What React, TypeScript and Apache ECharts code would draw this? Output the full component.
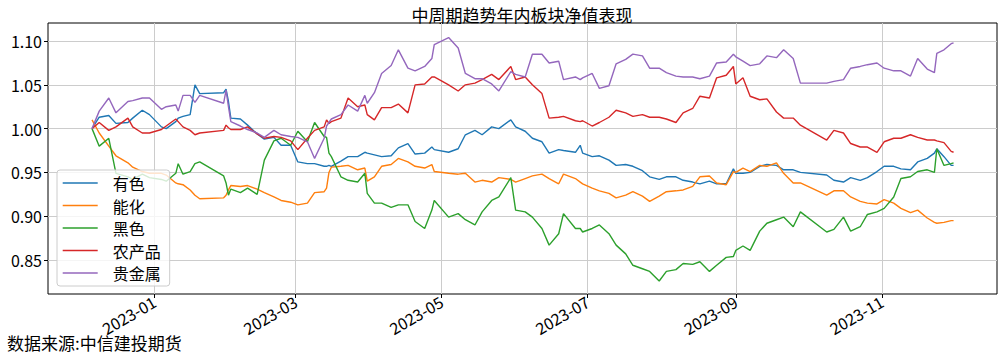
import React, { useEffect, useRef } from "react";
import * as echarts from "echarts";

const FONT = "'Noto Sans CJK SC', 'Noto Sans', sans-serif";

const names = ["有色", "能化", "黑色", "农产品", "贵金属"];
const colors = ["#1f77b4", "#ff7f0e", "#2ca02c", "#d62728", "#9467bd"];

const dates = [
  "2022-12-06", "2022-12-09", "2022-12-13", "2022-12-16", "2022-12-21", "2022-12-23", "2022-12-27", "2022-12-30",
  "2023-01-04", "2023-01-06", "2023-01-10", "2023-01-11", "2023-01-13", "2023-01-16", "2023-01-18", "2023-01-20",
  "2023-01-30", "2023-01-31", "2023-02-01", "2023-02-02", "2023-02-06", "2023-02-09", "2023-02-13", "2023-02-16",
  "2023-02-20", "2023-02-23", "2023-02-27", "2023-03-02", "2023-03-06", "2023-03-09", "2023-03-13", "2023-03-14",
  "2023-03-15", "2023-03-16", "2023-03-20", "2023-03-23", "2023-03-27", "2023-03-30", "2023-03-31", "2023-04-03",
  "2023-04-06", "2023-04-10", "2023-04-13", "2023-04-17", "2023-04-20", "2023-04-24", "2023-04-27", "2023-04-28",
  "2023-05-04", "2023-05-08", "2023-05-11", "2023-05-15", "2023-05-18", "2023-05-22", "2023-05-25", "2023-05-30",
  "2023-06-01", "2023-06-05", "2023-06-08", "2023-06-12", "2023-06-15", "2023-06-19", "2023-06-21", "2023-06-26",
  "2023-06-28", "2023-06-29", "2023-07-03", "2023-07-06", "2023-07-10", "2023-07-13", "2023-07-17", "2023-07-20",
  "2023-07-24", "2023-07-27", "2023-07-31", "2023-08-03", "2023-08-07", "2023-08-10", "2023-08-14", "2023-08-17",
  "2023-08-21", "2023-08-24", "2023-08-28", "2023-08-31", "2023-09-01", "2023-09-04", "2023-09-07", "2023-09-11",
  "2023-09-14", "2023-09-18", "2023-09-21", "2023-09-25", "2023-09-28", "2023-10-09", "2023-10-12", "2023-10-16",
  "2023-10-19", "2023-10-23", "2023-10-26", "2023-10-30", "2023-11-02", "2023-11-06", "2023-11-09", "2023-11-13",
  "2023-11-16", "2023-11-20", "2023-11-23", "2023-11-24", "2023-11-27", "2023-11-30", "2023-12-01",
];

const youse = [
  1.000, 1.013, 1.015, 1.006, 1.007, 1.012, 1.021, 1.016, 1.002, 1.000, 1.008, 1.012, 1.014, 1.016, 1.050, 1.040,
  1.041, 1.045, 1.031, 1.012, 1.011, 1.004, 0.994, 0.988, 0.990, 0.981, 0.981, 0.962, 0.960, 0.960, 0.957, 0.957,
  0.958, 0.957, 0.963, 0.968, 0.968, 0.973, 0.972, 0.970, 0.968, 0.969, 0.978, 0.983, 0.971, 0.972, 0.979, 0.976,
  0.973, 0.977, 0.993, 0.998, 0.993, 1.002, 1.000, 1.010, 1.002, 0.997, 0.989, 0.985, 0.972, 0.976, 0.975, 0.973,
  0.981, 0.972, 0.968, 0.969, 0.964, 0.958, 0.959, 0.957, 0.952, 0.945, 0.942, 0.945, 0.945, 0.941, 0.939, 0.937,
  0.940, 0.937, 0.937, 0.954, 0.949, 0.949, 0.950, 0.957, 0.959, 0.958, 0.953, 0.953, 0.950, 0.947, 0.941, 0.939,
  0.944, 0.941, 0.944, 0.951, 0.957, 0.957, 0.954, 0.953, 0.962, 0.966, 0.972, 0.977, 0.968, 0.958, 0.958,
];

const nenghua = [
  1.010, 0.995, 0.980, 0.969, 0.961, 0.956, 0.951, 0.949, 0.949, 0.947, 0.938, 0.937, 0.936, 0.930, 0.924, 0.920,
  0.921, 0.924, 0.930, 0.935, 0.934, 0.935, 0.931, 0.927, 0.922, 0.918, 0.916, 0.913, 0.915, 0.927, 0.928, 0.932,
  0.950, 0.956, 0.957, 0.958, 0.953, 0.955, 0.940, 0.945, 0.957, 0.959, 0.966, 0.962, 0.957, 0.955, 0.959, 0.951,
  0.949, 0.948, 0.949, 0.939, 0.941, 0.939, 0.944, 0.942, 0.939, 0.943, 0.946, 0.948, 0.943, 0.937, 0.948, 0.943,
  0.939, 0.937, 0.932, 0.929, 0.926, 0.921, 0.924, 0.928, 0.923, 0.917, 0.923, 0.928, 0.929, 0.930, 0.934, 0.945,
  0.946, 0.938, 0.936, 0.951, 0.950, 0.955, 0.951, 0.958, 0.957, 0.961, 0.949, 0.938, 0.938, 0.924, 0.929, 0.929,
  0.922, 0.917, 0.915, 0.914, 0.919, 0.915, 0.909, 0.904, 0.907, 0.898, 0.893, 0.892, 0.893, 0.895, 0.895,
];

const heise = [
  1.000, 0.980, 0.989, 0.949, 0.945, 0.942, 0.948, 0.944, 0.942, 0.940, 0.949, 0.960, 0.948, 0.951, 0.960, 0.962,
  0.946, 0.938, 0.924, 0.931, 0.927, 0.932, 0.925, 0.964, 0.986, 0.989, 0.981, 0.997, 0.985, 1.007, 0.991, 0.990,
  0.972, 0.968, 0.945, 0.941, 0.939, 0.949, 0.926, 0.915, 0.915, 0.910, 0.913, 0.913, 0.894, 0.886, 0.907, 0.918,
  0.899, 0.903, 0.896, 0.890, 0.905, 0.918, 0.922, 0.944, 0.907, 0.905, 0.899, 0.886, 0.867, 0.880, 0.903, 0.886,
  0.886, 0.882, 0.886, 0.890, 0.880, 0.867, 0.857, 0.844, 0.840, 0.837, 0.826, 0.837, 0.839, 0.846, 0.845, 0.848,
  0.837, 0.844, 0.853, 0.854, 0.861, 0.866, 0.861, 0.883, 0.892, 0.896, 0.899, 0.888, 0.905, 0.882, 0.885, 0.899,
  0.883, 0.888, 0.902, 0.905, 0.909, 0.922, 0.943, 0.945, 0.951, 0.953, 0.950, 0.977, 0.958, 0.960, 0.961,
];

const nongchanpin = [
  1.000, 1.007, 0.998, 1.002, 1.012, 1.002, 0.995, 0.995, 0.999, 1.003, 1.011, 1.008, 1.002, 0.998, 0.993, 0.995,
  0.998, 1.004, 1.001, 0.999, 0.999, 1.002, 0.994, 0.989, 0.991, 0.990, 0.986, 0.976, 0.989, 0.998, 1.002, 1.010,
  1.006, 1.008, 1.012, 1.035, 1.025, 1.027, 1.016, 1.010, 1.024, 1.024, 1.028, 1.018, 1.050, 1.051, 1.059, 1.059,
  1.050, 1.043, 1.050, 1.052, 1.056, 1.062, 1.056, 1.071, 1.056, 1.059, 1.050, 1.040, 1.012, 1.013, 1.014, 1.009,
  1.008, 1.009, 1.003, 1.007, 1.013, 1.021, 1.018, 1.014, 1.016, 1.013, 1.013, 1.011, 1.007, 1.018, 1.023, 1.037,
  1.035, 1.058, 1.061, 1.071, 1.051, 1.058, 1.037, 1.033, 1.034, 1.019, 1.012, 1.012, 1.004, 0.987, 0.998, 0.995,
  0.983, 0.979, 0.979, 0.973, 0.985, 0.989, 0.989, 0.993, 0.990, 0.987, 0.987, 0.986, 0.984, 0.974, 0.973,
];

const guijinshu = [
  1.000, 1.020, 1.035, 1.018, 1.031, 1.032, 1.035, 1.035, 1.022, 1.025, 1.027, 1.020, 1.038, 1.038, 1.030, 1.038,
  1.029, 1.044, 1.025, 1.008, 1.003, 0.999, 0.995, 0.990, 0.998, 0.993, 0.991, 0.990, 0.985, 0.966, 0.989, 1.003,
  1.007, 1.011, 1.016, 1.027, 1.020, 1.038, 1.029, 1.041, 1.063, 1.072, 1.090, 1.069, 1.066, 1.071, 1.080, 1.096,
  1.104, 1.092, 1.063, 1.057, 1.057, 1.051, 1.043, 1.065, 1.062, 1.059, 1.085, 1.085, 1.075, 1.077, 1.056, 1.059,
  1.056, 1.058, 1.063, 1.046, 1.049, 1.074, 1.079, 1.085, 1.083, 1.069, 1.069, 1.064, 1.060, 1.059, 1.059, 1.057,
  1.060, 1.075, 1.076, 1.085, 1.082, 1.077, 1.072, 1.074, 1.083, 1.081, 1.090, 1.080, 1.052, 1.052, 1.054, 1.056,
  1.069, 1.071, 1.073, 1.075, 1.069, 1.066, 1.066, 1.060, 1.080, 1.068, 1.064, 1.086, 1.090, 1.097, 1.098,
];

const seriesValues = [youse, nenghua, heise, nongchanpin, guijinshu];

const xTickMonths = ["2023-01-01", "2023-03-01", "2023-05-01", "2023-07-01", "2023-09-01", "2023-11-01"];
const yTicks = [0.85, 0.9, 0.95, 1.0, 1.05, 1.1];

function localTs(s: string): number {
  const [y, m, d] = s.split("-").map(Number);
  return new Date(y, m - 1, d).getTime();
}

export default function App() {
  const ref = useRef<HTMLDivElement>(null);

  useEffect(() => {
    if (!ref.current) return;
    const chart = echarts.init(ref.current, undefined, { renderer: "svg" });
    const day = 86400000;
    const jan1 = localTs("2023-01-01");
    const xTicks = xTickMonths.map(localTs);

    const option: any = {
      animation: false,
      backgroundColor: "#ffffff",
      textStyle: { fontFamily: FONT },
      grid: {
        left: 48,
        right: 6,
        top: 23,
        bottom: 60,
        show: true,
        borderColor: "#000000",
        borderWidth: 1,
        backgroundColor: "transparent",
      },
      xAxis: {
        type: "value",
        min: jan1 - 44.4 * day,
        max: jan1 + 352.15 * day,
        axisLine: { show: false },
        axisTick: {
          show: true,
          customValues: xTicks,
          length: 4,
          lineStyle: { color: "#000000", width: 1 },
        },
        axisLabel: {
          customValues: xTicks,
          rotate: 30,
          margin: 6,
          fontSize: 16,
          color: "#000000",
          fontFamily: FONT,
          formatter: (v: number) => {
            const d = new Date(v);
            return `${d.getFullYear()}-${String(d.getMonth() + 1).padStart(2, "0")}`;
          },
        },
        splitLine: { show: true, lineStyle: { color: "#cccccc", width: 1 } },
      },
      yAxis: {
        type: "value",
        min: 0.8112,
        max: 1.1206,
        axisLine: { show: false },
        axisTick: {
          show: true,
          customValues: yTicks,
          length: 4,
          lineStyle: { color: "#000000", width: 1 },
        },
        axisLabel: {
          customValues: yTicks,
          margin: 6,
          fontSize: 16,
          color: "#000000",
          fontFamily: FONT,
          formatter: (v: number) => v.toFixed(2),
        },
        splitLine: { show: true, lineStyle: { color: "#cccccc", width: 1 } },
      },
      legend: {
        orient: "vertical",
        left: 57,
        top: 170,
        itemWidth: 35,
        itemHeight: 14,
        itemGap: 4.5,
        padding: [4, 9, 4, 5],
        backgroundColor: "rgba(255,255,255,0.8)",
        borderColor: "#cccccc",
        borderWidth: 1,
        borderRadius: 3,
        data: names,
        itemStyle: { opacity: 0 },
        lineStyle: { width: 1.4 },
        textStyle: {
          fontSize: 16,
          color: "#000000",
          fontFamily: FONT,
          lineHeight: 18,
          padding: [0, 0, 0, 10],
        },
      },
      graphic: [
        {
          type: "text",
          x: 522,
          y: 14,
          style: {
            text: "中周期趋势年内板块净值表现",
            fontSize: 17,
            fontFamily: FONT,
            fill: "#000000",
            textAlign: "center",
            textVerticalAlign: "middle",
          },
        },
        {
          type: "text",
          x: 7,
          y: 342,
          style: {
            text: "数据来源:中信建投期货",
            fontSize: 17,
            fontFamily: FONT,
            fill: "#000000",
            textAlign: "left",
            textVerticalAlign: "middle",
          },
        },
      ],
      series: names.map((name, i) => ({
        name,
        type: "line",
        data: dates.map((d, j) => [localTs(d), seriesValues[i][j]]),
        symbol: "none",
        showSymbol: false,
        lineStyle: { color: colors[i], width: 1.4 },
        itemStyle: { color: colors[i] },
        z: 2,
      })),
    };
    chart.setOption(option);
    return () => chart.dispose();
  }, []);

  return (
    <div
      ref={ref}
      style={{ position: "absolute", left: 0, top: 0, width: 1003, height: 354 }}
    />
  );
}
